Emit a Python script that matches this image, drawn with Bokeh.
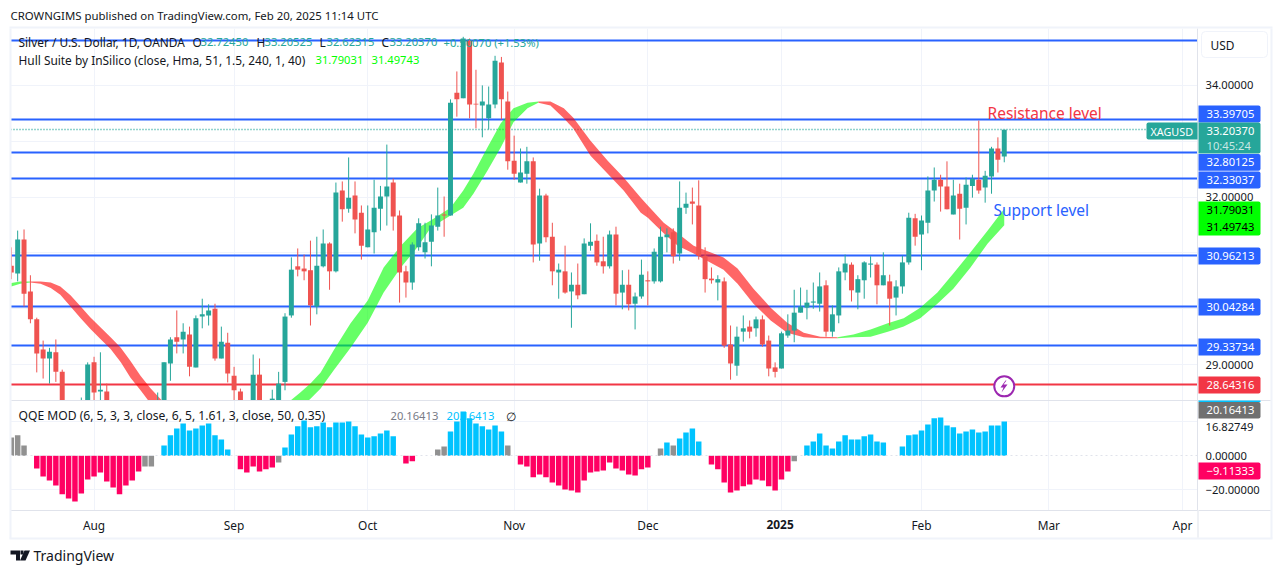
from itertools import groupby
from bokeh.plotting import figure
from bokeh.layouts import column
from bokeh.embed import file_html
from bokeh.resources import INLINE
from bokeh.models import (Range1d, FixedTicker, Label, BoxAnnotation, PolyAnnotation)

opens = [30.77,30.63,31.24,30.31,29.81,29.27,29.11,29.22,28.87,28.21,
28.00,28.09,28.30,29.04,28.52,28.52,28.20,27.98,27.82,28.00,
28.16,28.04,28.05,28.09,28.27,29.02,29.49,29.45,29.54,28.95,
29.86,29.88,30.00,29.11,29.39,28.80,28.52,28.14,28.27,28.82,
28.23,28.30,28.27,28.69,29.88,30.76,30.72,30.69,30.04,30.76,
31.17,30.67,32.12,31.79,32.03,31.72,31.10,31.37,31.79,32.01,
32.26,31.67,30.67,30.47,31.10,31.01,31.20,31.47,31.69,31.67,
33.87,33.77,34.80,33.67,33.64,33.41,33.66,34.41,33.71,32.65,
32.26,32.42,32.64,31.17,32.03,31.29,30.65,30.67,30.31,30.43,
30.26,31.13,31.22,30.85,30.76,31.33,30.29,30.43,30.09,30.22,
30.51,30.49,30.49,31.28,31.37,30.99,31.81,31.92,31.85,30.95,
30.54,30.47,30.49,29.36,28.98,29.59,29.68,29.65,29.81,29.43,
28.95,28.93,29.52,29.61,29.93,30.02,30.11,30.09,30.42,29.59,
29.88,30.65,30.79,30.29,30.51,30.79,30.79,30.42,30.49,30.20,
30.40,30.83,31.62,31.33,31.54,32.12,32.31,32.19,31.69,32.06,
31.81,32.20,32.31,32.17,32.37,32.87,32.7245]
highs = [31.10,31.40,31.42,30.60,29.84,29.43,29.30,29.45,28.91,28.32,
28.27,28.41,29.04,29.14,29.22,28.66,28.26,28.05,28.10,28.20,
28.25,28.22,28.28,28.50,29.04,29.49,29.97,29.74,29.68,29.88,
30.18,30.08,30.09,29.68,29.57,28.96,28.57,28.30,29.18,29.11,
28.29,28.55,28.87,29.92,30.92,31.08,30.97,31.22,31.29,31.42,
31.19,32.26,32.28,32.71,32.28,31.85,31.85,32.31,32.20,32.94,
32.33,31.76,30.77,31.19,31.62,31.54,31.69,32.17,32.01,33.75,
34.25,34.87,34.84,34.28,34.00,33.98,34.53,34.51,33.89,33.10,
32.87,32.90,32.71,32.15,32.06,31.54,30.81,31.13,30.65,30.81,
31.26,31.53,31.33,31.29,31.40,31.47,30.69,30.70,30.29,30.88,
30.67,31.08,31.47,31.44,31.44,32.28,32.08,32.17,32.30,31.10,
30.74,30.60,30.56,29.70,29.68,29.88,29.79,29.86,29.88,29.52,
29.04,29.59,29.90,30.34,30.38,30.34,30.47,30.65,30.51,30.06,
30.74,30.97,30.83,30.60,30.85,30.94,30.83,31.01,30.61,30.51,
30.95,31.72,31.70,31.67,32.37,32.53,32.40,32.64,32.31,32.24,
32.35,32.40,33.37,32.47,32.90,33.07,33.20525]
lows = [30.53,30.49,30.04,29.74,28.86,28.75,28.66,28.69,28.14,27.91,
27.86,28.00,28.18,28.32,28.27,28.18,27.88,27.72,27.75,27.92,
27.95,27.98,28.00,28.00,28.21,28.71,29.20,29.20,28.79,28.95,
29.65,29.70,29.07,29.11,28.68,28.36,28.18,28.03,28.18,28.18,
28.00,28.21,28.21,28.54,29.84,30.58,30.51,29.70,29.90,30.74,
30.34,30.65,31.56,31.72,31.35,30.88,31.10,30.99,31.40,31.49,
31.40,30.11,30.20,30.34,31.04,30.90,30.76,31.40,31.29,31.67,
33.44,33.77,33.41,33.23,33.07,33.21,33.59,33.39,32.49,32.31,
32.26,32.24,30.83,30.86,31.19,30.42,30.18,30.27,29.66,30.17,
30.26,31.04,30.77,30.63,30.72,30.06,29.99,29.97,29.63,30.18,
30.06,30.45,30.47,31.01,30.81,30.86,31.70,31.51,30.88,30.29,
30.45,30.15,29.30,28.73,28.80,29.41,29.47,29.50,29.32,28.79,
28.77,28.93,29.48,29.40,29.93,29.81,30.00,29.95,29.50,29.50,
29.74,30.51,30.13,29.99,30.18,30.56,30.08,30.42,29.70,29.88,
30.27,30.79,31.13,30.69,31.35,31.92,31.74,31.78,31.69,31.24,
31.51,31.99,32.06,31.90,32.06,32.44,32.62315]
closes = [30.65,31.24,30.27,29.81,29.20,29.11,29.23,28.87,28.27,28.03,
28.18,28.30,29.00,28.50,28.55,28.27,27.95,27.80,28.02,28.15,
28.02,28.15,28.20,28.27,29.04,29.45,29.41,29.59,28.96,29.83,
29.90,29.97,29.11,29.41,28.84,28.54,28.32,28.25,28.82,28.27,
28.09,28.39,28.66,29.86,30.70,30.70,30.67,30.06,30.77,31.17,
30.67,32.08,31.78,31.99,31.60,31.13,31.42,31.81,32.01,32.19,
31.65,30.65,30.47,31.15,31.53,31.19,31.49,31.67,31.67,33.69,
33.75,34.84,33.66,33.66,33.71,33.66,34.44,33.75,32.64,32.42,
32.44,32.64,31.15,32.03,31.28,30.67,30.70,30.29,30.43,30.24,
31.17,31.20,30.83,30.76,31.33,30.27,30.43,30.08,30.22,30.61,
30.49,31.02,31.29,31.33,30.94,31.81,31.88,31.88,30.95,30.53,
30.51,30.53,29.34,29.02,29.50,29.65,29.59,29.81,29.36,28.93,
28.87,29.56,29.61,29.93,30.04,30.11,30.13,30.40,29.59,29.90,
30.67,30.81,30.33,30.53,30.83,30.81,30.42,30.60,30.18,30.40,
30.83,31.63,31.29,31.58,32.12,32.31,32.19,31.78,32.03,31.79,
32.22,32.33,32.12,32.38,32.87,32.67,33.2037]

# Hull band: bar position, upper edge, lower edge, trend of that stretch
hull_x = [0,1.4,3, 3,4.6,6.2,7.7,9.3,10.9,12.4,14,15.6,17.2,18.7,20.3,21.9,23.4,25.5,28,31,34,
          34,37,40,42.5,43.9,45.4,47,48.6,50.6,53.3,56,58.5,61.2,63.8,65.9,69,71,72.6,74.8,76.9,78.9,81.1,82.8,
          82.8,84.7,86.8,88.3,91,93.7,96.2,98.9,100,102.5,104.7,107.2,109.8,111.9,114.1,116.6,119.3,121.9,124.5,127.1,129.8,
          129.8,132.3,135,137.7,140.2,142.8,145.5,148,150.7,153.4,156]
hull_hi = [30.46,30.49,30.49, 30.49,30.49,30.47,30.40,30.24,30.04,29.85,29.67,29.49,29.30,29.07,28.80,28.57,28.39,28.14,27.78,27.46,27.30,
           27.30,27.46,27.82,28.18,28.36,28.50,28.66,28.86,29.25,29.74,30.15,30.74,31.13,31.44,31.58,31.81,32.12,32.42,32.89,33.32,33.59,33.69,33.71,
           33.71,33.71,33.59,33.42,33.01,32.65,32.35,31.99,31.85,31.54,31.35,31.13,31.01,30.92,30.72,30.36,30.02,29.75,29.57,29.50,29.49,
           29.49,29.54,29.63,29.74,29.83,30.02,30.29,30.63,31.01,31.40,31.79031]
hull_lo = [30.40,30.45,30.47, 30.47,30.45,30.37,30.25,30.04,29.83,29.64,29.46,29.28,29.04,28.77,28.54,28.30,28.12,27.86,27.53,27.28,27.25,
           27.25,27.32,27.55,27.86,28.03,28.21,28.39,28.57,28.89,29.30,29.75,30.29,30.74,31.10,31.45,31.67,31.81,32.06,32.47,32.89,33.34,33.59,33.69,
           33.69,33.64,33.41,33.23,32.74,32.42,32.12,31.72,31.63,31.35,31.13,30.99,30.83,30.70,30.45,30.09,29.79,29.57,29.49,29.47,29.47,
           29.47,29.49,29.50,29.59,29.68,29.83,30.09,30.36,30.74,31.17,31.49743]
hull_dir = ["u"]*3 + ["d"]*18 + ["u"]*23 + ["d"]*21 + ["u"]*11

qqe_vals = [10.8,12.0,6.1,0,-7.5,-12.2,-14.5,-17.5,-22.7,-25.1,-26.9,-22.2,-13.9,-12.2,-9.8,-15.1,-18.6,-22.7,-17.5,-14.5,
-9.2,-6.3,-6.3,0,6.1,12.0,16.1,19.0,14.9,16.1,17.8,19.0,12.0,9.6,3.7,0,-8.0,-9.8,-6.3,-9.2,
-8.0,-6.9,-3.9,4.9,12.5,17.3,20.8,16.7,17.3,19.6,16.7,19.6,19.6,20.2,17.3,12.5,10.8,11.4,13.1,14.9,
11.4,0,-4.5,-3.3,0,0,0,3.7,5.5,14.3,20.2,26.1,22.0,19.0,17.3,15.5,17.8,14.3,6.1,0,
-5.1,-6.3,-12.7,-11.0,-12.7,-15.7,-17.5,-19.8,-20.4,-21.6,-14.5,-9.8,-9.2,-8.6,-3.9,-7.5,-8.6,-11.0,-11.6,-8.0,
-6.9,0,4.3,7.8,6.1,10.2,13.7,16.1,8.4,0,-5.1,-8.0,-15.7,-21.6,-20.4,-18.0,-16.9,-13.9,-14.5,-18.0,
-20.4,-13.9,-9.2,-3.3,0,6.1,8.4,13.1,6.1,4.3,8.4,12.0,9.6,9.6,11.4,12.5,8.4,7.8,0,0,
5.5,12.0,12.5,14.9,18.4,22.0,22.5,17.8,16.7,13.1,14.3,15.5,13.7,14.3,17.8,17.8,20.16413]
qqe_gray_bars = [0,1,2,21,22,42,67,68,78,102,104,123]

level_values = [34.80, 33.39705, 32.80125, 32.33037, 30.96213, 30.04284, 29.33734]
support_value = 28.64316
last_close = 33.2037
month_pos = [13,35,56,79,100,121,143,163,184]
month_names = ["Aug","Sep","Oct","Nov","Dec","2025","Feb","Mar","Apr"]

FONT = "Noto Sans"
SZ = "11.9px"
NUM = "11.2px"
TEAL, RED = "#26a69a", "#ef5350"
BLUE = "#2962ff"
GRID = "#f0f3fa"
SEP = "#e0e3eb"
XR = (-0.126, 186.36)

def base(height, top, bottom):
    p = figure(width=1281, height=height, output_backend="svg", toolbar_location=None,
               x_range=Range1d(*XR), y_axis_location="right",
               min_border_left=10, min_border_right=84, min_border_top=top, min_border_bottom=bottom)
    p.outline_line_color = None
    p.background_fill_color = "white"
    p.xgrid.ticker = FixedTicker(ticks=month_pos)
    p.xgrid.grid_line_color = GRID
    p.ygrid.grid_line_color = GRID
    a = p.yaxis[0]
    a.axis_line_color = SEP
    a.major_tick_line_color = None
    a.minor_tick_line_color = None
    a.major_tick_out = 0
    a.major_tick_in = 0
    a.minor_tick_out = 0
    a.major_label_text_font = FONT
    a.major_label_text_font_size = NUM
    a.major_label_text_color = "#131722"
    a.major_label_standoff = 8
    return p

# transparent sheet across the whole page for everything that sits outside the panes
ov = figure(width=1281, height=572, output_backend="svg", toolbar_location=None,
            x_axis_type=None, y_axis_type=None,
            min_border_left=0, min_border_right=0, min_border_top=0, min_border_bottom=0,
            x_range=Range1d(0, 1), y_range=Range1d(0, 1),
            background_fill_alpha=0, border_fill_alpha=0,
            styles={"position": "absolute", "left": "0px", "top": "0px", "z-index": "100"})
ov.outline_line_color = None
ov.grid.visible = False

def txt(x, y, s, color="#131722", size=SZ, style="normal"):
    ov.add_layout(Label(x=x, y=y, x_units="canvas", y_units="canvas", text=s, text_color=color,
                        text_font=FONT, text_font_size=size, text_baseline="middle", text_align="left",
                        text_font_style=style))

def box(l, r, t, b, color, radius=0, line=None):
    ov.add_layout(BoxAnnotation(left=l, right=r, top=t, bottom=b,
                                left_units="canvas", right_units="canvas", top_units="canvas", bottom_units="canvas",
                                fill_color=color, fill_alpha=1,
                                line_color=line, line_alpha=1 if line else 0, line_width=1,
                                border_radius=radius))

def poly(xs, ys, color):
    ov.add_layout(PolyAnnotation(xs=list(xs), ys=list(ys), xs_units="canvas", ys_units="canvas",
                                 fill_color=color, fill_alpha=1, line_alpha=0))

# ---------- price pane
p1 = base(400, 28, 0)
p1.y_range = Range1d(28.357, 35.019)
p1.xaxis.visible = False
p1.ygrid.ticker = FixedTicker(ticks=[29,30,31,32,33,34])
p1.yaxis[0].ticker = FixedTicker(ticks=[34,32,29])
p1.yaxis[0].major_label_overrides = {34:"34.00000",32:"32.00000",29:"29.00000"}

p1.hspan(y=level_values, line_color=BLUE, line_width=2)
p1.hspan(y=[support_value], line_color="#f23645", line_width=2)
p1.hspan(y=[last_close], line_color=TEAL, line_width=1.4, line_dash="1 2")

idx = list(range(len(opens)))
for d, grp in groupby(range(len(hull_x)), key=lambda k: hull_dir[k]):
    g = list(grp)
    p1.varea(x=[hull_x[k] for k in g], y1=[hull_lo[k] for k in g], y2=[hull_hi[k] for k in g],
             fill_color="#00ff00" if d == "u" else "#ff0000", fill_alpha=0.6)

cols = [TEAL if c >= o else RED for o, c in zip(opens, closes)]
p1.segment(x0=idx, x1=idx, y0=lows, y1=highs, line_color=cols, line_width=1)
p1.vbar(x=idx, width=0.78, bottom=[min(o,c) for o,c in zip(opens,closes)], top=[max(o,c) for o,c in zip(opens,closes)],
        fill_color=cols, line_color=None)
p1.scatter(x=[156], y=[28.61], size=20, fill_color="white", line_color="#9c27b0", line_width=2)

# borders of the panel
box(9,1272,26,28,GRID)
box(9,11,28,538,GRID)
box(1270,1272,28,538,GRID)
box(9,1272,537,539,GRID)
box(11,1270,399.5,400.5,SEP)
box(1197,1198,510,537,SEP)
box(1198,1270,509.5,510.5,SEP)
poly([1005,1000,1003,1001,1007,1003,1006],[380,387,387,392,384,384,380],"#9c27b0")

txt(10,15,"CROWNGIMS published on TradingView.com, Feb 20, 2025 11:14 UTC",size="11.4px")
txt(18,41.5,"Silver / U.S. Dollar, 1D, OANDA")
x = [(192,"O","#131722"),(200,"32.72450",TEAL),(256,"H","#131722"),(264,"33.20525",TEAL),
     (319,"L","#131722"),(326,"32.62315",TEAL),(381,"C","#131722"),(389,"33.20370",TEAL),(443,"+0.50070 (+1.53%)",TEAL)]
for a,b,c in x:
    txt(a,41.5,b,c,NUM if c == TEAL else SZ)
txt(18,59,"Hull Suite by InSilico (close, Hma, 51, 1.5, 240, 1, 40)")
txt(315,59,"31.79031","#00ff00",NUM)
txt(371,59,"31.49743","#00ff00",NUM)
txt(987,112,"Resistance level","#f23645","15.5px")
txt(993,209,"Support level",BLUE,"15.5px")

box(1201,1267,31,57,"white",4,GRID)
txt(1210,44,"USD")
box(1146,1197,122,139,TEAL,(2,0,0,2))
txt(1150,130.5,"XAGUSD","white",size="10.8px")
def tag(lines, t, b, color, fg="white"):
    box(1198,1260,t,b,color,(0,2,2,0))
    for yc,s,c in lines:
        txt(1206,yc,s,c or fg,NUM)
tag([(113.7,"33.39705",None)],105,122,BLUE)
tag([(130.5,"33.20370",None),(144.5,"10:45:24","#c9e8e5")],122,153,TEAL)
tag([(161.7,"32.80125",None)],153.5,170.3,BLUE)
tag([(179.5,"32.33037",None)],171,188,BLUE)
tag([(209.5,"31.79031",None),(226,"31.49743",None)],201,235,"#00ff00","#000000")
tag([(255.5,"30.96213",None)],247,264,BLUE)
tag([(306.7,"30.04284",None)],298,315,BLUE)
tag([(346.7,"29.33734",None)],338,355,BLUE)
tag([(384.7,"28.64316",None)],376,393,"#f23645")

# ---------- QQE pane
p2 = base(172, 0, 62)
p2.y_range = Range1d(-32.2, 32.5)
p2.ygrid.ticker = FixedTicker(ticks=[20,-20])
p2.yaxis[0].ticker = FixedTicker(ticks=[16.82749,0,-20])
p2.yaxis[0].major_label_overrides = {16.82749:"16.82749",0:"0.00000",-20:"\u221220.00000"}
xa = p2.xaxis[0]
xa.ticker = FixedTicker(ticks=month_pos)
xa.major_label_overrides = {a:("" if b=="2025" else b) for a,b in zip(month_pos,month_names)}
xa.axis_line_color = SEP
xa.major_tick_line_color = None
xa.minor_tick_line_color = None
xa.major_tick_out = 0
xa.major_tick_in = 0
xa.minor_tick_out = 0
xa.major_label_text_font = FONT
xa.major_label_text_font_size = SZ
xa.major_label_text_color = "#131722"
xa.major_label_standoff = 6

q_cols = []
for i,v in enumerate(qqe_vals):
    q_cols.append("#919191" if i in qqe_gray_bars else ("#00c3ff" if v>0 else "#ff0062"))
p2.vbar(x=idx, width=0.86, top=qqe_vals, bottom=0, fill_color=q_cols, line_color=None)
p2.hspan(y=[0], line_color=SEP, line_width=1, line_dash="2 3")

txt(18,415,"QQE MOD (6, 5, 3, 3, close, 6, 5, 1.61, 3, close, 50, 0.35)",size="12.1px")
txt(390,415,"20.16413","#787b86",NUM)
txt(446,415,"20.16413","#00c3ff",NUM)
txt(505,415,"\u2205","#131722")
txt(766,523.5,"2025","#131722",SZ,"bold")
box(1198,1260,400,401.5,"#00c3ff")
box(1198,1260,401.5,418,"#707070",(0,2,2,0))
txt(1206,409.5,"20.16413","white",NUM)
box(1198,1260,462,479,"#ff0062",(0,2,2,0))
txt(1206,470.5,"\u22129.11333","white",NUM)
poly([10,19.5,19.5,15.5,15.5,10],[550,550,560,560,554,554],"#131722")
poly([24,29.5,25,19.5],[550,550,560,560],"#131722")
poly([20,23,23,20],[550,550,554,554],"#131722")
txt(33,555,"TradingView","#131722","14px")

layout = column(p1, p2, spacing=0)
open("out.html", "w").write(file_html([layout, ov], INLINE))
